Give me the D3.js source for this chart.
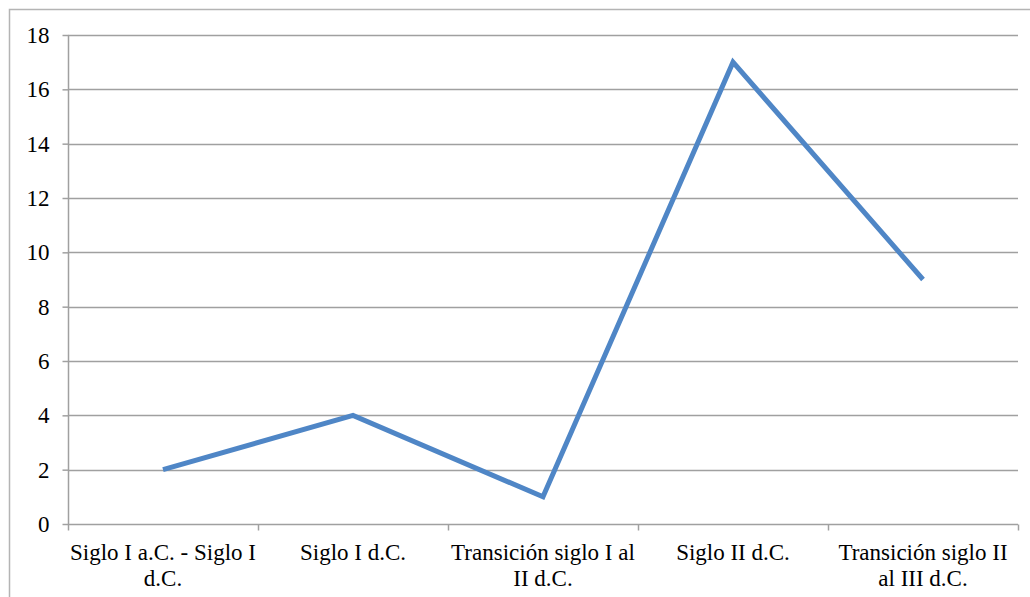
<!DOCTYPE html>
<html><head><meta charset="utf-8">
<script src="https://cdn.jsdelivr.net/npm/d3@7"></script>
<style>html,body{margin:0;padding:0;background:#fff;}svg{display:block;}
svg text{font-family:"Liberation Serif","Times New Roman",Times,serif !important;font-size:23px !important;fill:#000;}
</style>
</head><body>
<svg id="c" width="1030" height="597"></svg>
<script>
const categories = [
  ["Siglo I a.C. - Siglo I", "d.C."],
  ["Siglo I d.C."],
  ["Transición siglo I al", "II d.C."],
  ["Siglo II d.C."],
  ["Transición siglo II", "al III d.C."]
];
const values = [2, 4, 1, 17, 9];
const yTicks = [0, 2, 4, 6, 8, 10, 12, 14, 16, 18];

(function () {
const svg = d3.select("#c");
const gridColor = "#a0a0a0";

// outer border
svg.append("rect").attr("x", 9.5).attr("y", 9.5).attr("width", 1030).attr("height", 600)
  .attr("fill", "none").attr("stroke", "#b4b4b4").attr("stroke-width", 1.5);

const pLeft = 68, pRight = 1018, pTop = 35, pBottom = 524;
const x = d3.scaleBand().domain(d3.range(categories.length)).range([pLeft, pRight]);
const y = d3.scaleLinear().domain([0, 18]).range([pBottom, pTop]);

// gridlines
svg.append("g").selectAll("line").data(yTicks.filter(d => d > 0)).join("line")
  .attr("x1", pLeft).attr("x2", pRight)
  .attr("y1", d => Math.round(y(d)) + 0.5).attr("y2", d => Math.round(y(d)) + 0.5)
  .attr("stroke", gridColor).attr("stroke-width", 1.5);

// y axis
const yAxis = svg.append("g").attr("transform", `translate(${pLeft + 0.5},0)`)
  .call(d3.axisLeft(y).tickValues(yTicks).tickSize(6).tickPadding(13).tickFormat(d3.format("d")));
yAxis.select(".domain").attr("stroke", gridColor).attr("stroke-width", 1.5).attr("d", `M0,${pTop}V${pBottom}`);
yAxis.selectAll(".tick line").attr("stroke", gridColor).attr("stroke-width", 1.5);
yAxis.selectAll(".tick text").attr("fill", "#000");

// x axis
const xAxis = svg.append("g").attr("transform", `translate(0,${pBottom + 0.5})`);
xAxis.append("line").attr("x1", pLeft).attr("x2", pRight).attr("stroke", gridColor).attr("stroke-width", 1.5);
const tickPos = d3.range(categories.length + 1).map(i => i < categories.length ? x(i) : x(categories.length - 1) + x.bandwidth());
xAxis.selectAll("line.t").data(tickPos).join("line").attr("class", "t")
  .attr("x1", d => Math.round(d) + 0.5).attr("x2", d => Math.round(d) + 0.5)
  .attr("y1", 0).attr("y2", 6).attr("stroke", gridColor).attr("stroke-width", 1.5);
const lbl = xAxis.selectAll("text").data(categories).join("text")
  .attr("x", (d, i) => x(i) + x.bandwidth() / 2)
  .attr("text-anchor", "middle");
lbl.selectAll("tspan").data(d => d).join("tspan")
  .attr("x", function () { return d3.select(this.parentNode).attr("x"); })
  .attr("y", (d, j) => 35 + j * 26).text(d => d);

// line
const line = d3.line().x((d, i) => x(i) + x.bandwidth() / 2).y(d => y(d));
svg.append("path").datum(values).attr("d", line)
  .attr("fill", "none").attr("stroke", "#4F86C6").attr("stroke-width", 5)
  .attr("stroke-linejoin", "miter").attr("stroke-linecap", "butt");
})();
</script>
</body></html>
